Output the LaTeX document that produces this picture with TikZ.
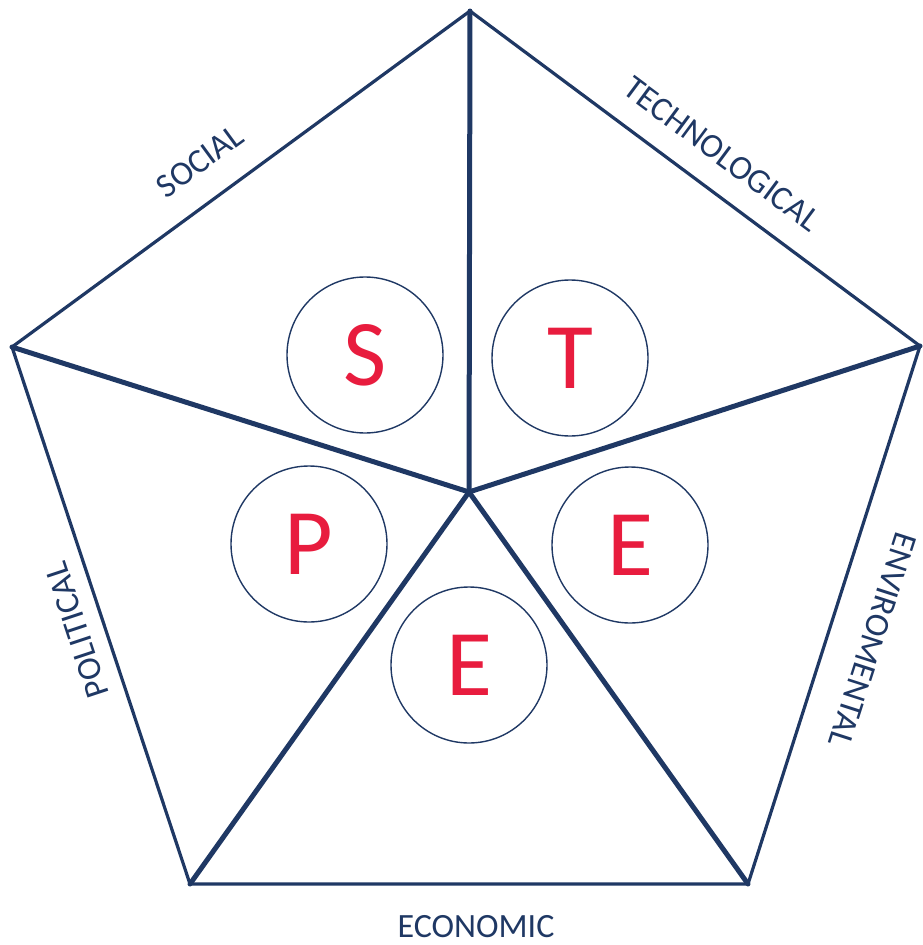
\documentclass[tikz,border=0pt]{standalone}
\usepackage{fontspec}
\setmainfont{Carlito}
\definecolor{navy}{RGB}{31,56,100}
\definecolor{letterred}{RGB}{232,28,62}
\begin{document}
\begin{tikzpicture}[x=1pt,y=-1pt,
  edge/.style={draw=navy,line width=3.2pt,line join=miter},
  spoke/.style={draw=navy,line width=5pt,line cap=round},
  ring/.style={circle,draw=navy,line width=1.4pt,minimum size=156pt,inner sep=0pt,
    text=letterred,font=\fontsize{94}{94}\selectfont},
  side/.style={text=navy,font=\fontsize{34}{34}\selectfont,inner sep=0pt}]
\useasboundingbox (0,0) rectangle (922,945);
\coordinate (top) at (470,11);
\coordinate (rt) at (920,346);
\coordinate (br) at (748,884);
\coordinate (bl) at (190,884);
\coordinate (lt) at (12,347);
\coordinate (c) at (469,492);
\draw[edge] (top) -- (rt) -- (br) -- (bl) -- (lt) -- cycle;
\foreach \v in {top,rt,br,bl,lt} \draw[spoke] (c) -- (\v);
\node[ring] (s) at (365,355) {S};
\node[ring] (t) at (570,358) {T};
\node[ring] (p) at (309,544) {P};
\node[ring] (e1) at (630,545) {E};
\node[ring] (e2) at (469,665) {E};
\node[side,rotate=36.3] (social) at (200,161) {SOCIAL};
\node[side,rotate=-36.6] (tech) at (722,154) {TECHNOLOGICAL};
\node[side,rotate=-107.8] (env) at (873,640) {ENVIROMENTAL};
\node[side,rotate=108.3] (pol) at (77,630) {POLITICAL};
\node[side] (eco) at (476,927) {ECONOMIC};
\end{tikzpicture}
\end{document}
